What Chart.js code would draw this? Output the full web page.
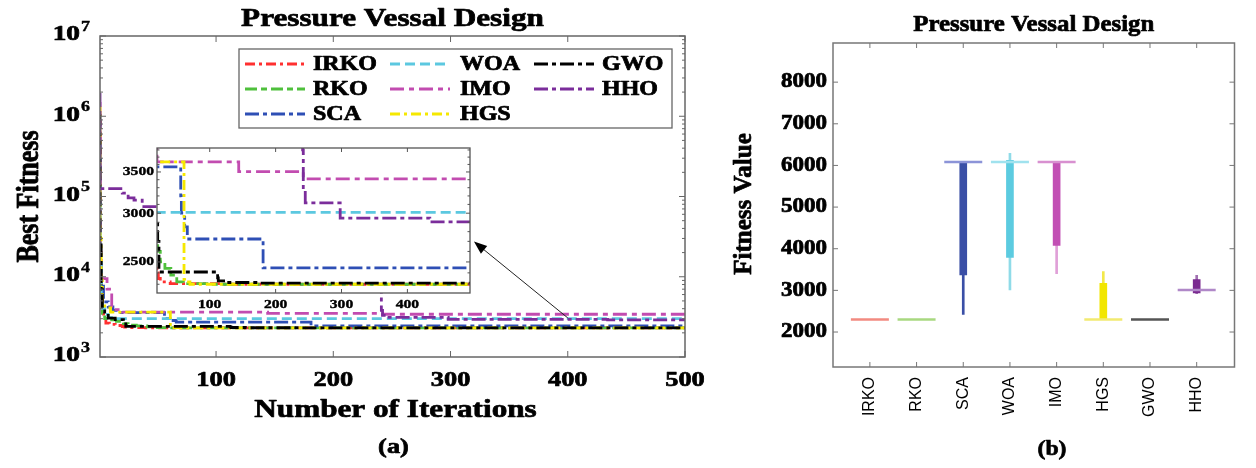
<!DOCTYPE html>
<html>
<head>
<meta charset="utf-8">
<script src="https://cdn.jsdelivr.net/npm/chart.js@4.4.1/dist/chart.umd.min.js"></script>
<style>
  html, body { margin: 0; padding: 0; background: #fff; }
  #wrap { position: relative; width: 1256px; height: 468px; overflow: hidden; background: #fff; }
  canvas { position: absolute; top: 0; }
</style>
</head>
<body>
<div id="wrap">
  <canvas id="conv" width="720" height="468" style="left:0"></canvas>
  <canvas id="zoomIn" width="720" height="468" style="left:0"></canvas>
  <canvas id="box" width="536" height="468" style="left:720px"></canvas>
</div>
<script>
// ---- data ----------------------------------------------------------------
const ALGORITHMS = ['IRKO', 'RKO', 'SCA', 'WOA', 'IMO', 'HGS', 'GWO', 'HHO'];

// best fitness breakpoints: [iteration, value], value holds until the next breakpoint
const IRKO_CURVE = [[1, 6e5], [2, 2.0e4], [3, 6000], [4, 3800], [6, 3000], [9, 2650], [14, 2550], [20, 2470], [22, 2400], [25, 2350], [40, 2320], [120, 2305], [500, 2300]];
const RKO_CURVE  = [[1, 4e5], [2, 1.5e4], [3, 5000], [5, 3500], [8, 3000], [15, 2900], [21, 2780], [25, 2600], [32, 2500], [41, 2440], [50, 2380], [60, 2320], [100, 2305], [500, 2300]];
const SCA_CURVE  = [[1, 3e5], [2, 2e4], [4, 8000], [8, 4870], [12, 4200], [16, 3800], [20, 3566], [56, 3566], [57, 3200], [62, 3000], [66, 2850], [68, 2724], [181, 2724], [182, 2445], [500, 2445]];
const WOA_CURVE  = [[1, 5e5], [2, 1.5e4], [3, 6000], [5, 4000], [8, 3400], [12, 3100], [18, 3010], [500, 3010]];
const IMO_CURVE  = [[1, 1.5e6], [2, 1.05e4], [7, 9500], [11, 7000], [20, 3900], [29, 3634], [144, 3634], [145, 3505], [242, 3505], [243, 3410], [500, 3410]];
const HGS_CURVE  = [[1, 1.33e6], [2, 3e4], [3, 9000], [5, 4500], [10, 4100], [37, 3634], [61, 3634], [62, 2340], [70, 2320], [500, 2300]];
const GWO_CURVE  = [[1, 1.06e6], [2, 2.5e4], [3, 7000], [5, 4000], [8, 3300], [14, 3050], [21, 2925], [23, 2700], [25, 2408], [112, 2408], [113, 2356], [125, 2330], [173, 2315], [500, 2310]];
const HHO_CURVE  = [[1, 1.95e6], [2, 1.29e5], [20, 1.25e5], [25, 1.1e5], [30, 9.6e4], [37, 9.0e4], [46, 7.5e4], [241, 7.5e4], [242, 3800], [245, 3300], [250, 3117], [298, 3117], [300, 2946], [434, 2946], [435, 2905], [500, 2905]];
const CURVES = [IRKO_CURVE, RKO_CURVE, SCA_CURVE, WOA_CURVE, IMO_CURVE, HGS_CURVE, GWO_CURVE, HHO_CURVE];

const MAIN_X_TICKS = [100, 200, 300, 400, 500];
const MAIN_Y_TICKS = [1e3, 1e4, 1e5, 1e6, 1e7];
const INSET_X_TICKS = [100, 200, 300, 400];
const INSET_Y_TICKS = [2500, 3000, 3500];
const INSET_MINOR_TICKS = [2300, 2400, 2600, 2700, 2800, 2900, 3100, 3200, 3300, 3400, 3600, 3700, 3800];

// arrow from the converged region up to the zoomed view: [iteration, value]
const ARROW_FROM = [400, 3070];
const ARROW_TO = [320, 27400];

// box plot statistics of the final fitness over the runs
const BOX_MIN = [2300, 2300, 2425, 3010, 3400, 2300, 2300, 2920];
const BOX_Q1  = [2300, 2300, 3370, 3790, 4080, 2300, 2300, 2940];
const BOX_MED = [2300, 2300, 6085, 6085, 6085, 2300, 2300, 3010];
const BOX_Q3  = [2300, 2300, 6085, 6120, 6085, 3170, 2300, 3260];
const BOX_MAX = [2300, 2300, 6085, 6290, 6085, 3450, 2300, 3360];
const BOX_Y_TICKS = [2000, 3000, 4000, 5000, 6000, 7000, 8000];

// ---- styles ----------------------------------------------------------------
const LINE_COLORS = ['#ff3030', '#4fc03c', '#2e4fb5', '#5cc8e0', '#c24cb0', '#f5e800', '#000000', '#7b2d9b'];
const LINE_DASHES = [[10, 4, 3, 4], [12, 4, 6, 4], [14, 4, 4, 4], [10, 5], [14, 5, 5, 5], [10, 4, 3, 4], [14, 4, 4, 4], [14, 4, 4, 4]];
const BOX_COLORS = ['#f28a80', '#9fd27a', '#3a4fa6', '#5ccbe0', '#c24fb4', '#f2e600', '#505050', '#7a2a90'];
const WHISKER_COLORS = ['#f28a80', '#9fd27a', '#3a4fa6', '#8fdbe8', '#e0a0d8', '#f2e84a', '#505050', '#a070b0'];
const MEDIAN_COLORS = ['#f28a80', '#a8d880', '#8c94d8', '#a0e2ee', '#d890d0', '#f2ea70', '#555555', '#b088c8'];

const SERIF = '"Liberation Serif", "Times New Roman", serif';
const SANS = '"Liberation Sans", Arial, sans-serif';
const SX_L = 1.2;   // horizontal text stretch, left panel
const SX_R = 1.08;  // horizontal text stretch, right panel

function txt(ctx, s, x, y, o) {
  ctx.save();
  ctx.translate(x, y);
  ctx.scale(o.sx || 1, 1);
  if (o.rot) ctx.rotate(o.rot);
  ctx.font = (o.weight || 'bold') + ' ' + o.size + 'px ' + (o.family || SERIF);
  ctx.textAlign = o.align || 'center';
  ctx.textBaseline = o.base || 'middle';
  ctx.fillStyle = o.color || '#000';
  ctx.fillText(s, 0, 0);
  // a thin outline gives the heavy print weight of the labels
  ctx.strokeStyle = o.color || '#000';
  ctx.lineWidth = o.size > 16 ? 0.7 : 0.4;
  ctx.lineJoin = 'round';
  ctx.strokeText(s, 0, 0);
  ctx.restore();
}
function seg(ctx, x1, y1, x2, y2) {
  ctx.beginPath(); ctx.moveTo(x1, y1); ctx.lineTo(x2, y2); ctx.stroke();
}

function lineDatasets(width) {
  return ALGORITHMS.map((name, i) => ({
    label: name,
    data: CURVES[i].map(([x, y]) => ({ x, y })),
    borderColor: LINE_COLORS[i],
    backgroundColor: LINE_COLORS[i],
    borderWidth: width,
    borderDash: LINE_DASHES[i],
    stepped: 'after',
    pointRadius: 0,
    fill: false,
    clip: 0,
    order: ALGORITHMS.length - i
  }));
}

// ---- convergence curves ----------------------------------------------------
const mainDecor = {
  id: 'mainDecor',
  afterDraw(chart) {
    const { ctx, chartArea: a, scales: { x, y } } = chart;
    ctx.save();
    ctx.strokeStyle = '#666'; ctx.lineWidth = 1.5;
    ctx.strokeRect(a.left, a.top, a.right - a.left, a.bottom - a.top);
    ctx.lineWidth = 1;
    MAIN_X_TICKS.forEach(v => {
      const px = x.getPixelForValue(v);
      ctx.strokeStyle = '#666'; ctx.lineWidth = 1;
      seg(ctx, px, a.bottom, px, a.bottom - 6);
      seg(ctx, px, a.top, px, a.top + 6);
      txt(ctx, String(v), px, a.bottom + 23, { size: 22, sx: SX_L });
    });
    ctx.strokeStyle = '#666'; ctx.lineWidth = 1;
    for (let k = 3; k < 7; k++) {
      for (let m = 2; m <= 9; m++) {
        const py = y.getPixelForValue(m * Math.pow(10, k));
        seg(ctx, a.left, py, a.left + 3, py);
        seg(ctx, a.right, py, a.right - 3, py);
      }
    }
    MAIN_Y_TICKS.forEach(v => {
      const py = y.getPixelForValue(v);
      ctx.strokeStyle = '#666'; ctx.lineWidth = 1;
      seg(ctx, a.left, py, a.left + 6, py);
      seg(ctx, a.right, py, a.right - 6, py);
      const e = String(Math.round(Math.log10(v)));
      ctx.font = 'bold 15px ' + SERIF;
      const we = ctx.measureText(e).width * SX_L;
      txt(ctx, e, a.left - 10, py - 9, { size: 15, sx: SX_L, align: 'right' });
      txt(ctx, '10', a.left - 11 - we, py - 1, { size: 21, sx: 1.3, align: 'right' });
    });
    const cx = (a.left + a.right) / 2;
    txt(ctx, 'Pressure Vessal Design', cx, 19, { size: 26, sx: SX_L });
    txt(ctx, 'Number of Iterations', cx + 3, 410, { size: 26, sx: SX_L });
    txt(ctx, 'Best Fitness', 30, (a.top + a.bottom) / 2, { size: 26, sx: SX_L, rot: -Math.PI / 2 });
    txt(ctx, '(a)', cx + 1, 447, { size: 22, sx: SX_L });

    // legend, three columns filled top to bottom
    ctx.fillStyle = '#fff';
    ctx.fillRect(239, 49, 433, 79);
    ctx.strokeStyle = '#666'; ctx.lineWidth = 1.3;
    ctx.strokeRect(239, 49, 433, 79);
    const colLine = [245, 390, 534], colText = [313, 460, 602], rowY = [64, 89, 114];
    ALGORITHMS.forEach((name, i) => {
      const c = Math.floor(i / 3), r = i % 3;
      ctx.strokeStyle = LINE_COLORS[i]; ctx.lineWidth = 2.8;
      ctx.setLineDash(LINE_DASHES[i]);
      seg(ctx, colLine[c], rowY[r], colLine[c] + 60, rowY[r]);
      ctx.setLineDash([]);
      txt(ctx, name, colText[c], rowY[r] + 1, { size: 20, sx: SX_L, align: 'left' });
    });

    // arrow pointing at the zoomed view
    const fx = x.getPixelForValue(ARROW_FROM[0]), fy = y.getPixelForValue(ARROW_FROM[1]);
    const tx = x.getPixelForValue(ARROW_TO[0]), ty = y.getPixelForValue(ARROW_TO[1]);
    const ang = Math.atan2(ty - fy, tx - fx);
    ctx.strokeStyle = '#222'; ctx.lineWidth = 1;
    seg(ctx, fx, fy, tx - 8 * Math.cos(ang), ty - 8 * Math.sin(ang));
    ctx.fillStyle = '#000';
    ctx.beginPath();
    ctx.moveTo(tx, ty);
    ctx.lineTo(tx - 13 * Math.cos(ang) + 5 * Math.sin(ang), ty - 13 * Math.sin(ang) - 5 * Math.cos(ang));
    ctx.lineTo(tx - 13 * Math.cos(ang) - 5 * Math.sin(ang), ty - 13 * Math.sin(ang) + 5 * Math.cos(ang));
    ctx.closePath(); ctx.fill();
    ctx.restore();
  }
};

new Chart(document.getElementById('conv'), {
  type: 'line',
  data: { datasets: lineDatasets(2.8) },
  options: {
    responsive: false, animation: false, devicePixelRatio: 1,
    layout: { padding: { left: 100, top: 36, right: 35, bottom: 111 } },
    plugins: { legend: { display: false }, tooltip: { enabled: false }, title: { display: false } },
    scales: {
      x: { type: 'linear', min: 1, max: 500, display: false },
      y: { type: 'logarithmic', min: 1e3, max: 1e7, display: false }
    }
  },
  plugins: [mainDecor]
});

// ---- zoomed view -----------------------------------------------------------
const insetDecor = {
  id: 'insetDecor',
  beforeDraw(chart) {
    const { ctx, chartArea: a } = chart;
    ctx.save(); ctx.fillStyle = '#fff';
    ctx.fillRect(a.left, a.top, a.right - a.left, a.bottom - a.top);
    ctx.restore();
  },
  afterDraw(chart) {
    const { ctx, chartArea: a, scales: { x, y } } = chart;
    ctx.save();
    ctx.strokeStyle = '#555'; ctx.lineWidth = 1.3;
    ctx.strokeRect(a.left, a.top, a.right - a.left, a.bottom - a.top);
    INSET_X_TICKS.forEach(v => {
      const px = x.getPixelForValue(v);
      ctx.strokeStyle = '#555'; ctx.lineWidth = 1;
      seg(ctx, px, a.bottom, px, a.bottom - 4);
      seg(ctx, px, a.top, px, a.top + 4);
      txt(ctx, String(v), px, a.bottom + 12, { size: 13, sx: SX_L });
    });
    ctx.strokeStyle = '#555'; ctx.lineWidth = 1;
    INSET_MINOR_TICKS.forEach(v => {
      const py = y.getPixelForValue(v);
      seg(ctx, a.left, py, a.left + 2.5, py);
      seg(ctx, a.right, py, a.right - 2.5, py);
    });
    INSET_Y_TICKS.forEach(v => {
      const py = y.getPixelForValue(v);
      ctx.strokeStyle = '#555'; ctx.lineWidth = 1;
      seg(ctx, a.left, py, a.left + 4, py);
      seg(ctx, a.right, py, a.right - 4, py);
      txt(ctx, String(v), a.left - 3, py, { size: 13, sx: SX_L, align: 'right' });
    });
    ctx.restore();
  }
};

new Chart(document.getElementById('zoomIn'), {
  type: 'line',
  data: { datasets: lineDatasets(2.8) },
  options: {
    responsive: false, animation: false, devicePixelRatio: 1,
    layout: { padding: { left: 157, top: 148, right: 250, bottom: 175 } },
    plugins: { legend: { display: false }, tooltip: { enabled: false }, title: { display: false } },
    scales: {
      x: { type: 'linear', min: 20, max: 495, display: false },
      y: { type: 'logarithmic', min: 2226, max: 3828, display: false }
    }
  },
  plugins: [insetDecor]
});

// ---- box plot --------------------------------------------------------------
const boxDecor = {
  id: 'boxDecor',
  afterDraw(chart) {
    const { ctx, chartArea: a, scales: { x, y } } = chart;
    ctx.save();
    ctx.strokeStyle = '#777'; ctx.lineWidth = 1.5;
    ctx.strokeRect(a.left, a.top, a.right - a.left, a.bottom - a.top);
    ALGORITHMS.forEach((name, i) => {
      const px = x.getPixelForValue(i);
      ctx.strokeStyle = '#777'; ctx.lineWidth = 1;
      seg(ctx, px, a.bottom, px, a.bottom - 5);
      seg(ctx, px, a.top, px, a.top + 5);
      ctx.save();
      ctx.translate(px, a.bottom + 10);
      ctx.rotate(-Math.PI / 2);
      ctx.font = '16px ' + SANS;
      ctx.textAlign = 'right'; ctx.textBaseline = 'middle'; ctx.fillStyle = '#000';
      ctx.fillText(name, 0, 0);
      ctx.restore();
    });
    BOX_Y_TICKS.forEach(v => {
      const py = y.getPixelForValue(v);
      ctx.strokeStyle = '#777'; ctx.lineWidth = 1;
      seg(ctx, a.left, py, a.left + 5, py);
      seg(ctx, a.right, py, a.right - 5, py);
      txt(ctx, String(v), a.left - 6, py, { size: 20, sx: SX_R + 0.07, align: 'right' });
    });
    const cx = (a.left + a.right) / 2;
    txt(ctx, 'Pressure Vessal Design', cx, 25, { size: 23, sx: SX_R });
    txt(ctx, 'Fitness Value', 25, 204, { size: 25, sx: 1, rot: -Math.PI / 2 });
    txt(ctx, '(b)', 332, 449, { size: 22, sx: SX_R });
    ctx.restore();
  }
};

new Chart(document.getElementById('box'), {
  type: 'bar',
  data: {
    datasets: [
      {
        label: 'whiskers',
        data: ALGORITHMS.map((_, i) => ({ x: i, y: [BOX_MIN[i], BOX_MAX[i]] })),
        backgroundColor: WHISKER_COLORS,
        barThickness: 2, grouped: false, borderWidth: 0, order: 2
      },
      {
        label: 'boxes',
        data: ALGORITHMS.map((_, i) => ({ x: i, y: [BOX_Q1[i], BOX_Q3[i]] })),
        backgroundColor: BOX_COLORS,
        barThickness: 7, grouped: false, borderWidth: 0, order: 1
      },
      {
        type: 'line',
        label: 'medians',
        data: ALGORITHMS.map((_, i) => ({ x: i, y: BOX_MED[i] })),
        showLine: false,
        pointStyle: 'line',
        pointRadius: 19,
        pointBorderWidth: 2.5,
        pointBorderColor: MEDIAN_COLORS,
        pointBackgroundColor: MEDIAN_COLORS,
        order: 0
      }
    ]
  },
  options: {
    responsive: false, animation: false, devicePixelRatio: 1,
    layout: { padding: { left: 113, top: 43, right: 14, bottom: 101 } },
    plugins: { legend: { display: false }, tooltip: { enabled: false }, title: { display: false } },
    scales: {
      x: { type: 'linear', min: -0.79, max: 7.81, offset: false, display: false },
      y: { type: 'linear', min: 1160, max: 8940, display: false }
    }
  },
  plugins: [boxDecor]
});
</script>
</body>
</html>
